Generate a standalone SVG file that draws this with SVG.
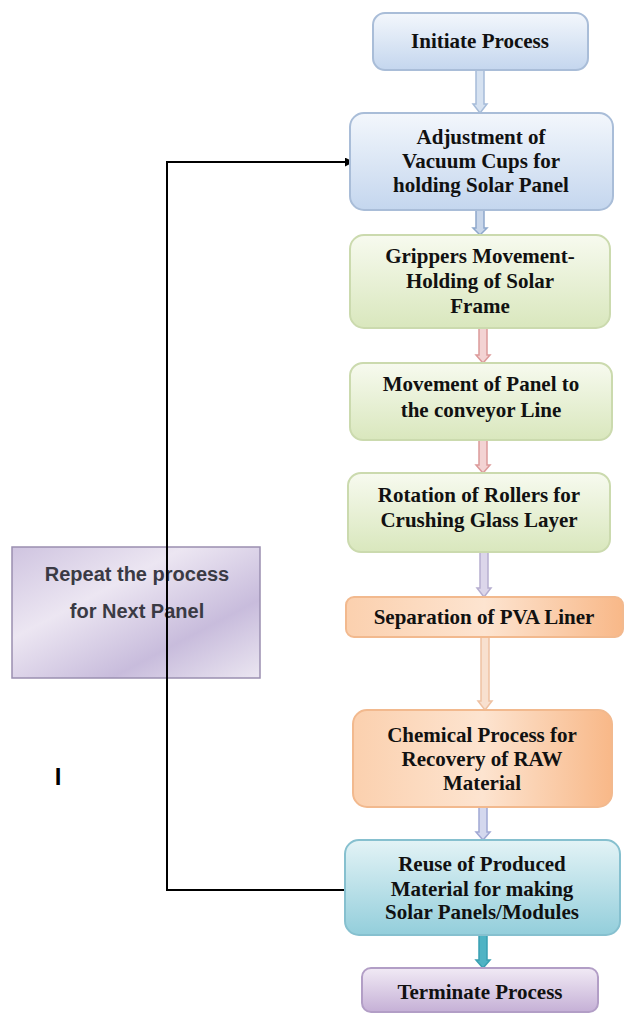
<svg xmlns="http://www.w3.org/2000/svg" width="624" height="1014" viewBox="0 0 624 1014">
<defs>
<linearGradient id="gBlue" x1="0" y1="0" x2="0" y2="1"><stop offset="0" stop-color="#f3f7fc"/><stop offset="1" stop-color="#c4d6ee"/></linearGradient>
<linearGradient id="gGreen" x1="0" y1="0" x2="0" y2="1"><stop offset="0" stop-color="#f7faef"/><stop offset="1" stop-color="#d9e7bd"/></linearGradient>
<linearGradient id="gOrange" x1="0" y1="0" x2="1" y2="0"><stop offset="0" stop-color="#fbd0ae"/><stop offset="0.5" stop-color="#fde4d0"/><stop offset="1" stop-color="#f8b888"/></linearGradient>
<linearGradient id="gTeal" x1="0" y1="0" x2="0" y2="1"><stop offset="0" stop-color="#e3f3f6"/><stop offset="1" stop-color="#93cedb"/></linearGradient>
<linearGradient id="gPurple" x1="0" y1="0" x2="0" y2="1"><stop offset="0" stop-color="#f1eaf5"/><stop offset="1" stop-color="#c5b0d6"/></linearGradient>
<linearGradient id="gLav" x1="0" y1="0" x2="1" y2="1"><stop offset="0" stop-color="#cfc4e0"/><stop offset="0.35" stop-color="#ece6f2"/><stop offset="0.7" stop-color="#c8bcdc"/><stop offset="1" stop-color="#ebe6f1"/></linearGradient>
<marker id="ah" viewBox="0 0 10 10" refX="9" refY="5" markerWidth="9" markerHeight="9" orient="auto" markerUnits="userSpaceOnUse"><path d="M0,0 L10,5 L0,10 z" fill="#000"/></marker>
</defs>
<style>
.t{font-family:"Liberation Serif","Times New Roman",serif;font-weight:bold;font-size:21px;fill:#111;text-anchor:middle;dominant-baseline:central}
.s{font-family:"Liberation Sans",Arial,sans-serif;font-weight:bold;font-size:20px;fill:#3a3a44;text-anchor:middle;dominant-baseline:central}
.blue{fill:url(#gBlue);stroke:#a9bdd8;stroke-width:2}
.green{fill:url(#gGreen);stroke:#cbdaae;stroke-width:2}
.orange{fill:url(#gOrange);stroke:#f2b98e;stroke-width:2}
.teal{fill:url(#gTeal);stroke:#86c0cf;stroke-width:2}
.purple{fill:url(#gPurple);stroke:#b29ec6;stroke-width:2}
.conn{stroke-width:1.5}
</style>
<g id="n10"><rect x="12" y="547" width="248" height="131" fill="url(#gLav)" stroke="#9a8fb0" stroke-width="1.5"/><text class="s" x="137" y="574">Repeat the process</text><text class="s" x="137" y="611">for Next Panel</text></g>
<g id="connectors">
<path class="conn" d="M476,70 V104 H473 L480,113 L487,104 H484 V70 Z" fill="#d6e2f1" stroke="#a6bcd9"/>
<path class="conn" d="M476,210 V228 H473 L480,235 L487,228 H484 V210 Z" fill="#c8d6ea" stroke="#8ea8cc"/>
<path class="conn" d="M479,328 V355 H476 L483,363 L490,355 H487 V328 Z" fill="#f3d3d3" stroke="#dc9a9a"/>
<path class="conn" d="M479,440 V465 H476 L483,473 L490,465 H487 V440 Z" fill="#f3d3d3" stroke="#dc9a9a"/>
<path class="conn" d="M480,552 V588 H477 L484,597 L491,588 H488 V552 Z" fill="#dcd6ea" stroke="#b6aed0"/>
<path class="conn" d="M481,637 V701 H478 L485,710 L492,701 H489 V637 Z" fill="#f8e0cf" stroke="#eec1a2"/>
<path class="conn" d="M479,807 V832 H476 L483,840 L490,832 H487 V807 Z" fill="#d4d8ee" stroke="#a0a8d4"/>
<path class="conn" d="M479,935 V960 H476 L483,968 L490,960 H487 V935 Z" fill="#4fb3c4" stroke="#3aa0b2"/>
<path d="M345,890 H167 V162 H353" fill="none" stroke="#000" stroke-width="2" marker-end="url(#ah)"/>
</g>
<g id="n1"><rect class="blue" x="373" y="13" width="215" height="57" rx="12"/><text class="t" x="480" y="41">Initiate Process</text></g>
<g id="n2"><rect class="blue" x="350" y="113" width="263" height="97" rx="14"/><text class="t" x="481" y="137">Adjustment of</text><text class="t" x="481" y="161">Vacuum Cups for</text><text class="t" x="481" y="185">holding Solar Panel</text></g>
<g id="n3"><rect class="green" x="350" y="235" width="260" height="93" rx="14"/><text class="t" x="480" y="256">Grippers Movement-</text><text class="t" x="480" y="281">Holding of Solar</text><text class="t" x="480" y="306">Frame</text></g>
<g id="n4"><rect class="green" x="350" y="363" width="262" height="77" rx="13"/><text class="t" x="481" y="384">Movement of Panel to</text><text class="t" x="481" y="410">the conveyor Line</text></g>
<g id="n5"><rect class="green" x="348" y="473" width="262" height="79" rx="13"/><text class="t" x="479" y="495">Rotation of Rollers for</text><text class="t" x="479" y="520">Crushing Glass Layer</text></g>
<g id="n6"><rect class="orange" x="346" y="597" width="277" height="40" rx="8"/><text class="t" x="484" y="617">Separation of PVA Liner</text></g>
<g id="n7"><rect class="orange" x="353" y="710" width="259" height="97" rx="14"/><text class="t" x="482" y="735">Chemical Process for</text><text class="t" x="482" y="759">Recovery of RAW</text><text class="t" x="482" y="783">Material</text></g>
<g id="n8"><rect class="teal" x="345" y="840" width="275" height="95" rx="14"/><text class="t" x="482" y="864">Reuse of Produced</text><text class="t" x="482" y="889">Material for making</text><text class="t" x="482" y="912">Solar Panels/Modules</text></g>
<g id="n9"><rect class="purple" x="362" y="968" width="236" height="44" rx="9"/><text class="t" x="480" y="992">Terminate Process</text></g>
<text x="58" y="776" font-family="Liberation Sans,Arial,sans-serif" font-weight="bold" font-size="24" fill="#000" text-anchor="middle" dominant-baseline="central">I</text>
</svg>
